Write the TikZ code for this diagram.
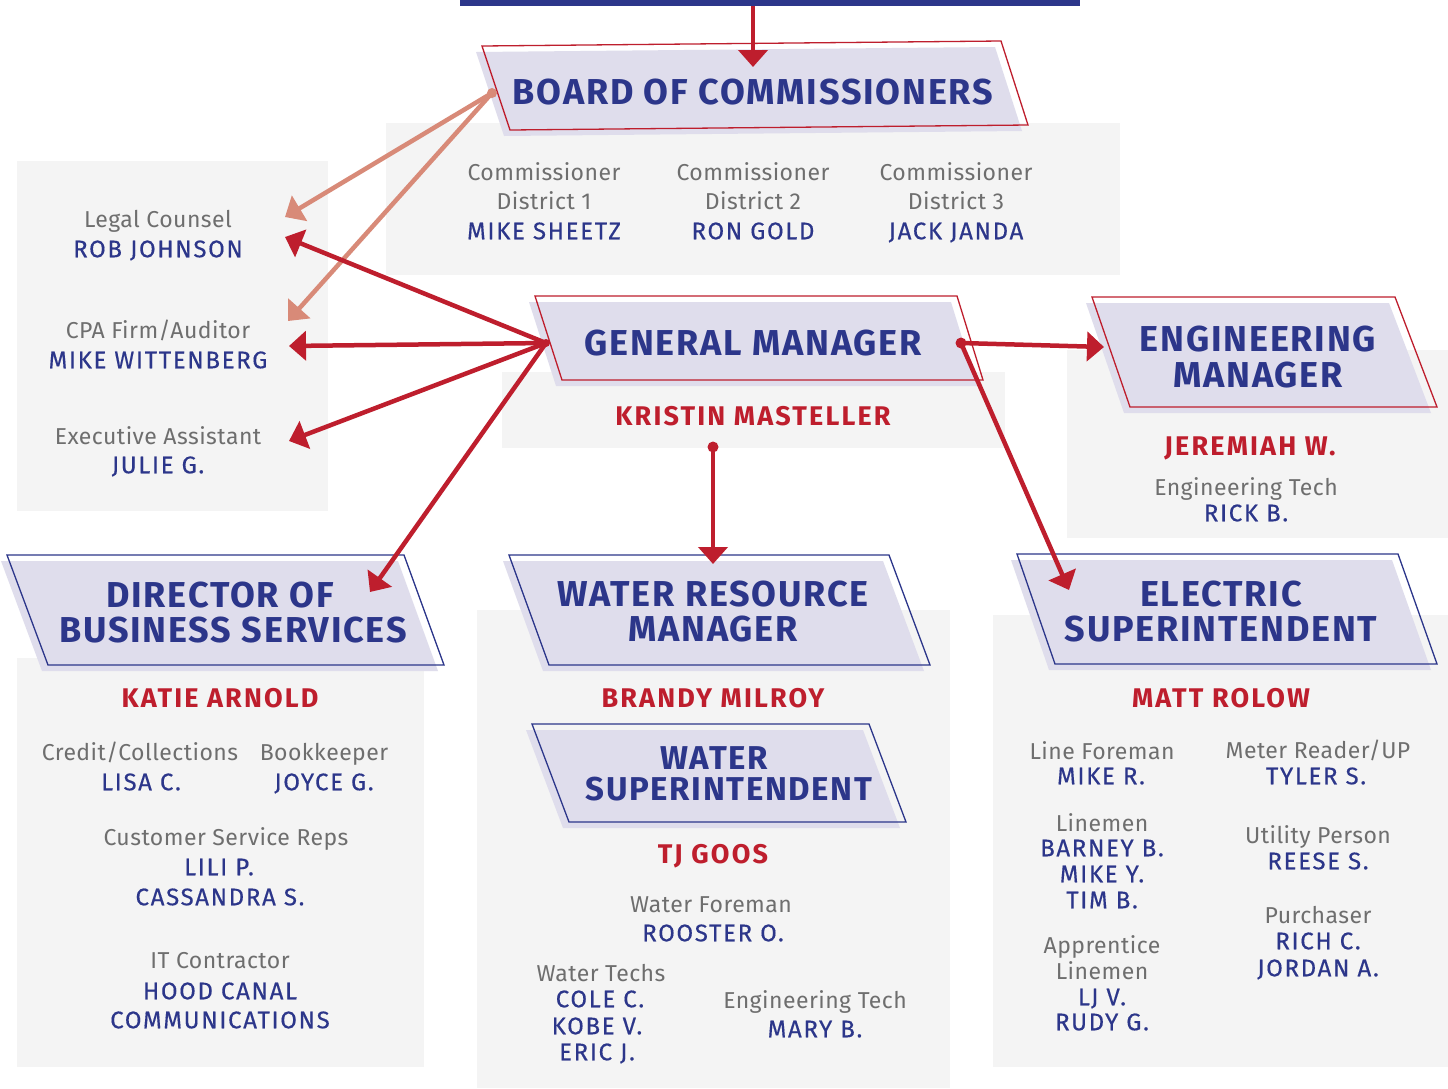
\documentclass[tikz,border=0pt]{standalone}
\usepackage{fontspec}
\setmainfont{Fira Sans}
\newfontfamily\grayf{Fira Sans}[LetterSpace=2]
\newfontfamily\namef{Fira Sans}[LetterSpace=7,FakeBold=0.4]
\newfontfamily\titlef{Fira Sans}[LetterSpace=5]
\newfontfamily\redf{Fira Sans}[LetterSpace=8]
\usetikzlibrary{arrows.meta,calc}
\definecolor{navy}{RGB}{44,54,138}
\definecolor{rred}{RGB}{190,30,45}
\definecolor{salmon}{RGB}{216,138,120}
\definecolor{lav}{RGB}{223,221,236}
\definecolor{panel}{RGB}{244,244,244}
\definecolor{txtgray}{RGB}{110,110,110}
\newcommand\txtln[5]{\node[#2] (#1) at (#3,#4) {#5};}
\newcommand\pgram[6]{%
  \fill[lav] ($(#3)+(-6,6)$) -- ($(#4)+(-6,6)$) -- ($(#5)+(-6,6)$) -- ($(#6)+(-6,6)$) -- cycle;
  \draw[#2, line width=1.3pt, line join=miter] (#3) -- (#4) -- (#5) -- (#6) -- cycle;}
\tikzset{
  gtxt/.style={inner sep=0pt, text height=16pt, text depth=0pt, text=txtgray, font=\grayf\fontsize{23}{23}\selectfont},
  ntxt/.style={inner sep=0pt, text height=16.5pt, text depth=0pt, text=navy, font=\namef\fontsize{24}{24}\selectfont},
  rtxt/.style={inner sep=0pt, text height=18.6pt, text depth=0pt, text=rred, font=\redf\bfseries\fontsize{27}{27}\selectfont},
  ttxt/.style={inner sep=0pt, text height=24.8pt, text depth=0pt, text=navy, font=\titlef\bfseries\fontsize{36}{36}\selectfont},
  wtxt/.style={inner sep=0pt, text height=22.7pt, text depth=0pt, text=navy, font=\titlef\bfseries\fontsize{33}{33}\selectfont},
  conn/.style={line width=4.5pt, -{Triangle[length=17pt,width=29pt]}}
}
\begin{document}
\begin{tikzpicture}[x=1pt,y=-1pt]
\useasboundingbox (0,0) rectangle (1448,1088);
\fill[white] (0,0) rectangle (1448,1088);
% panels
\fill[panel] (386,123) rectangle (1120,275);
\fill[panel] (17,161) rectangle (328,511);
\fill[panel] (502,372) rectangle (1005,448);
\fill[panel] (1067,350) rectangle (1448,538);
\fill[panel] (17,658) rectangle (424,1067);
\fill[panel] (477,610) rectangle (950,1088);
\fill[panel] (993,615) rectangle (1448,1067);
% top bar
\fill[navy] (460,0) rectangle (1080,6);
\coordinate (topbar) at (753,6);
% boxes
\pgram{board}{rred}{482,46}{1001,41}{1028,125}{510,130}
\pgram{gm}{rred}{535,296}{957,296}{983,380}{562,380}
\pgram{eng}{rred}{1092,297}{1395,297}{1437,407}{1130,407}
\pgram{dir}{navy}{7,555}{404,555}{444,665}{48,665}
\pgram{wrm}{navy}{509,555}{889,555}{930,665}{549,665}
\pgram{ws}{navy}{532,724}{869,724}{906,822}{569,822}
\pgram{elec}{navy}{1017,554}{1398,554}{1437,664}{1055,664}
% connector end points
\coordinate (boardIn) at (753,67);
\coordinate (boardL) at (492,93);
\coordinate (legalA) at (285,217);
\coordinate (cpaA) at (288,321);
\coordinate (gmL) at (546,343);
\coordinate (legalB) at (285,237);
\coordinate (cpaB) at (289,346);
\coordinate (execIn) at (289,441);
\coordinate (dirIn) at (370,592);
\coordinate (gmR) at (961,343);
\coordinate (engIn) at (1104,347);
\coordinate (elecIn) at (1069,590);
\coordinate (gmB) at (713,447);
\coordinate (wrmIn) at (713,564);
% connectors
\draw[conn, salmon] (boardL) -- (legalA);
\draw[conn, salmon] (boardL) -- (cpaA);
\fill[salmon] (boardL) circle (5pt);
\draw[conn, rred] (topbar) -- (boardIn);
\draw[conn, rred] (gmL) -- (legalB);
\draw[conn, rred] (gmL) -- (cpaB);
\draw[conn, rred] (gmL) -- (execIn);
\draw[conn, rred] (gmL) -- (dirIn);
\fill[rred] (gmL) circle (4pt);
\draw[conn, rred] (gmR) -- (engIn);
\draw[conn, rred] (gmR) -- (elecIn);
\fill[rred] (gmR) circle (5.5pt);
\draw[conn, rred] (gmB) -- (wrmIn);
\fill[rred] (gmB) circle (5.5pt);
% titles
\txtln{tBoard}{ttxt}{753}{92}{BOARD OF COMMISSIONERS}
\txtln{tGM}{ttxt}{753}{343}{GENERAL MANAGER}
\txtln{tEng1}{ttxt}{1258}{339}{ENGINEERING}
\txtln{tEng2}{ttxt}{1258}{375}{MANAGER}
\txtln{tDir1}{ttxt}{220}{595}{DIRECTOR OF}
\txtln{tDir2}{ttxt}{233}{630}{BUSINESS SERVICES}
\txtln{tWrm1}{ttxt}{713}{594}{WATER RESOURCE}
\txtln{tWrm2}{ttxt}{713}{629}{MANAGER}
\txtln{tWs1}{wtxt}{714}{758}{WATER}
\txtln{tWs2}{wtxt}{729}{789}{SUPERINTENDENT}
\txtln{tEl1}{ttxt}{1221}{594}{ELECTRIC}
\txtln{tEl2}{ttxt}{1221}{629}{SUPERINTENDENT}
% commissioners
\txtln{c1a}{gtxt}{544}{172}{Commissioner}
\txtln{c1b}{gtxt}{544}{201}{District 1}
\txtln{c1c}{ntxt}{544}{231}{MIKE SHEETZ}
\txtln{c2a}{gtxt}{753}{172}{Commissioner}
\txtln{c2b}{gtxt}{753}{201}{District 2}
\txtln{c2c}{ntxt}{753}{231}{RON GOLD}
\txtln{c3a}{gtxt}{956}{172}{Commissioner}
\txtln{c3b}{gtxt}{956}{201}{District 3}
\txtln{c3c}{ntxt}{956}{231}{JACK JANDA}
% left panel
\txtln{lga}{gtxt}{158}{219}{Legal Counsel}
\txtln{lgb}{ntxt}{158}{249}{ROB JOHNSON}
\txtln{cpa}{gtxt}{158}{330}{CPA Firm/Auditor}
\txtln{cpb}{ntxt}{158}{360}{MIKE WITTENBERG}
\txtln{exa}{gtxt}{158}{436}{Executive Assistant}
\txtln{exb}{ntxt}{158}{465}{JULIE G.}
% GM
\txtln{gmn}{rtxt}{753}{416}{KRISTIN MASTELLER}
% engineering
\txtln{engn}{rtxt}{1250}{446}{JEREMIAH W.}
\txtln{enga}{gtxt}{1246}{487}{Engineering Tech}
\txtln{engb}{ntxt}{1246}{513}{RICK B.}
% business
\txtln{dirn}{rtxt}{220}{698}{KATIE ARNOLD}
\txtln{b1a}{gtxt}{140}{752}{Credit/Collections}
\txtln{b1b}{ntxt}{141}{782}{LISA C.}
\txtln{b2a}{gtxt}{324}{752}{Bookkeeper}
\txtln{b2b}{ntxt}{324}{782}{JOYCE G.}
\txtln{b3a}{gtxt}{226}{837}{Customer Service Reps}
\txtln{b3b}{ntxt}{219}{867}{LILI P.}
\txtln{b3c}{ntxt}{220}{897}{CASSANDRA S.}
\txtln{b4a}{gtxt}{220}{960}{IT Contractor}
\txtln{b4b}{ntxt}{220}{991}{HOOD CANAL}
\txtln{b4c}{ntxt}{220}{1020}{COMMUNICATIONS}
% water
\txtln{wrmn}{rtxt}{713}{698}{BRANDY MILROY}
\txtln{wsn}{rtxt}{713}{854}{TJ GOOS}
\txtln{w1a}{gtxt}{711}{904}{Water Foreman}
\txtln{w1b}{ntxt}{713}{933}{ROOSTER O.}
\txtln{w2a}{gtxt}{601}{973}{Water Techs}
\txtln{w2b}{ntxt}{600}{999}{COLE C.}
\txtln{w2c}{ntxt}{597}{1026}{KOBE V.}
\txtln{w2d}{ntxt}{597}{1052}{ERIC J.}
\txtln{w3a}{gtxt}{815}{1000}{Engineering Tech}
\txtln{w3b}{ntxt}{815}{1029}{MARY B.}
% electric
\txtln{eln}{rtxt}{1221}{698}{MATT ROLOW}
\txtln{e1a}{gtxt}{1102}{751}{Line Foreman}
\txtln{e1b}{ntxt}{1101}{776}{MIKE R.}
\txtln{e2a}{gtxt}{1102}{823}{Linemen}
\txtln{e2b}{ntxt}{1102}{848}{BARNEY B.}
\txtln{e2c}{ntxt}{1102}{874}{MIKE Y.}
\txtln{e2d}{ntxt}{1102}{900}{TIM B.}
\txtln{e3a}{gtxt}{1102}{945}{Apprentice}
\txtln{e3b}{gtxt}{1102}{971}{Linemen}
\txtln{e3c}{ntxt}{1102}{997}{LJ V.}
\txtln{e3d}{ntxt}{1102}{1022}{RUDY G.}
\txtln{e4a}{gtxt}{1318}{750}{Meter Reader/UP}
\txtln{e4b}{ntxt}{1316}{776}{TYLER S.}
\txtln{e5a}{gtxt}{1318}{835}{Utility Person}
\txtln{e5b}{ntxt}{1318}{861}{REESE S.}
\txtln{e6a}{gtxt}{1318}{915}{Purchaser}
\txtln{e6b}{ntxt}{1318}{941}{RICH C.}
\txtln{e6c}{ntxt}{1318}{968}{JORDAN A.}
\end{tikzpicture}
\end{document}
